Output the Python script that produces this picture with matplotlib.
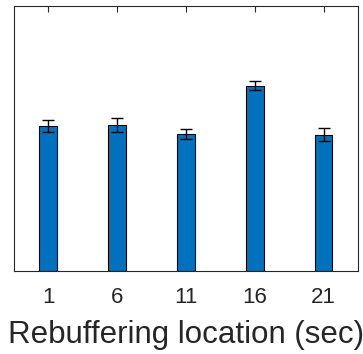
import matplotlib.pyplot as plt

# mean score per rebuffering location, with error half-widths
locations = ['1', '6', '11', '16', '21']
scores = [2.74, 2.75, 2.58, 3.50, 2.57]
errors = [0.11, 0.13, 0.09, 0.08, 0.12]

plt.rcParams['font.family'] = ['Liberation Sans', 'DejaVu Sans']

fig = plt.figure(figsize=(3.63, 3.54), dpi=100)
ax = fig.add_axes([0.0386, 0.2345, 0.9474, 0.7485])

pos = list(range(1, len(locations) + 1))
ax.bar(pos, scores, width=0.26, color='#0072BD', edgecolor='black', linewidth=0.8, zorder=2)
ax.errorbar(pos, scores, yerr=errors, fmt='none', ecolor='black', elinewidth=1.0,
            capsize=4.5, capthick=1.0, zorder=3)

ax.set_xlim(0.5, 5.5)
ax.set_ylim(0, 5)
ax.set_xticks(pos)
ax.set_xticklabels(locations, fontsize=16, color='#262626')
ax.set_yticks([])
ax.tick_params(axis='x', direction='in', length=4, width=0.8, color='#262626',
               top=True, pad=11.5)
for s in ax.spines.values():
    s.set_color('#262626')
    s.set_linewidth(0.8)
ax.set_xlabel('Rebuffering location (sec)', fontsize=22.5, color='#262626', labelpad=9)

plt.savefig('out.png', dpi=100)
